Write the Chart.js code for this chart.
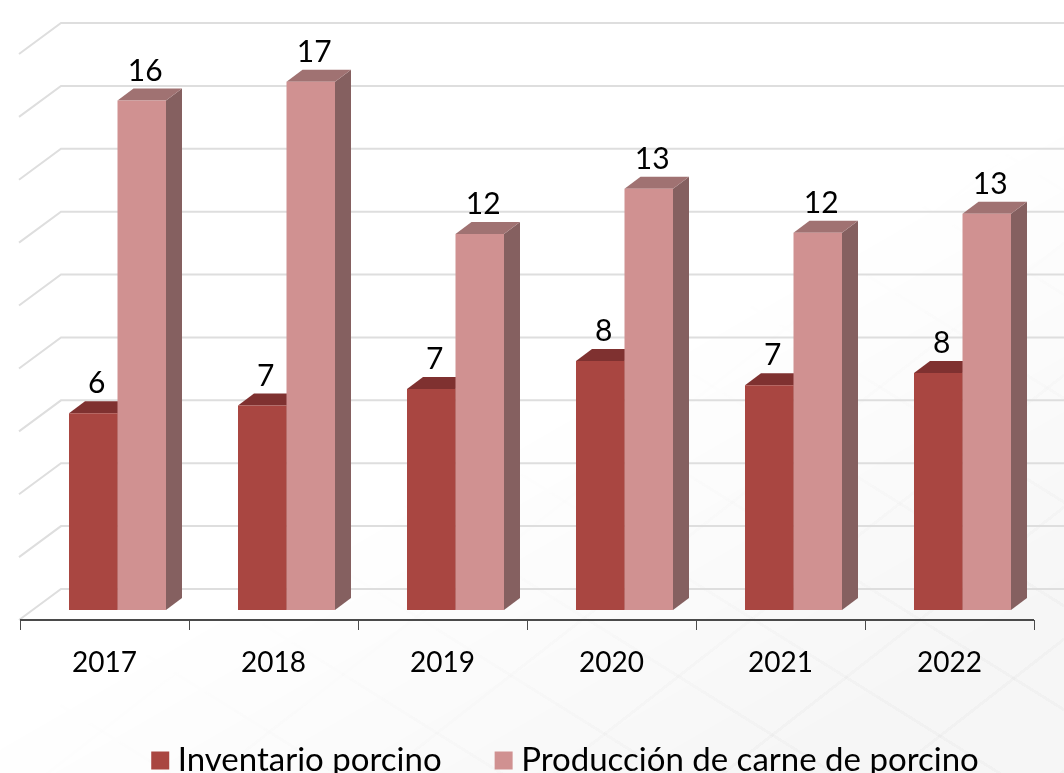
<!DOCTYPE html>
<html>
<head>
<meta charset="utf-8">
<title>Inventario y producción porcina</title>
<script src="https://cdn.jsdelivr.net/npm/chart.js@4/dist/chart.umd.min.js"></script>
<style>
  html, body { margin: 0; padding: 0; background: #fff; overflow: hidden; }
  #wrap { position: relative; width: 1064px; height: 773px; }
  /* textura gris muy suave abajo a la derecha */
  #fondo {
    position: absolute; inset: 0;
    background:
      repeating-linear-gradient(32deg, rgba(0,0,0,.02) 0 3px, transparent 3px 88px),
      repeating-linear-gradient(-38deg, rgba(0,0,0,.02) 0 3px, transparent 3px 104px),
      #f6f6f6;
    -webkit-mask-image: linear-gradient(150deg, transparent 52%, #000 88%);
    mask-image: linear-gradient(150deg, transparent 52%, #000 88%);
  }
  canvas { position: absolute; left: 0; top: 0; }
</style>
</head>
<body>
<div id="wrap">
  <div id="fondo"></div>
  <canvas id="g-porcino" width="1064" height="773"></canvas>
</div>
<script>
var anios = ['2017', '2018', '2019', '2020', '2021', '2022'];
var inventario = [6.26, 6.5, 7.03, 7.92, 7.15, 7.54];
var produccion = [16.2, 16.8, 11.96, 13.4, 12, 12.6];
var etiquetasInventario = ['6', '7', '7', '8', '7', '8'];
var etiquetasProduccion = ['16', '17', '12', '13', '12', '13'];
var valoresGrid = [0, 2, 4, 6, 8, 10, 12, 14, 16, 18];

var fuente = 'Lato';
var colorTexto = '#000';
var caras = [
  { frente: '#a94641', arriba: '#7f3130', lado: '#7f3130' },
  { frente: '#d09191', arriba: '#a07272', lado: '#856060' }
];

// el eje de categorias va corrido 13px a la izquierda de las barras
var corrimiento = 13;

var plugin3d = {
  id: 'plugin3d',
  afterLayout: function (chart) {
    // centra la leyenda como en el original
    chart.legend.left += 29;
    chart.legend.right += 29;
  },
  beforeDatasetsDraw: function (chart) {
    var ctx = chart.ctx;
    var y = chart.scales.y;
    var x = chart.scales.x;
    ctx.save();

    // lineas de la pared y del piso
    valoresGrid.forEach(function (v) {
      var py = y.getPixelForValue(v);
      ctx.strokeStyle = '#dedede';
      ctx.lineWidth = 2;
      ctx.beginPath();
      ctx.moveTo(19, py + 10);
      ctx.lineTo(61, py - 21);
      ctx.lineTo(1064, py - 21);
      ctx.stroke();
    });

    // eje x
    var base = y.getPixelForValue(0) + 10;
    var paso = x.getPixelForTick(1) - x.getPixelForTick(0);
    ctx.strokeStyle = '#4a4a4a';
    ctx.lineWidth = 2;
    ctx.beginPath();
    ctx.moveTo(20, base);
    ctx.lineTo(1034, base);
    ctx.stroke();
    ctx.lineWidth = 1;
    for (var i = 0; i <= anios.length; i++) {
      var tx = Math.round(x.getPixelForTick(0) - paso / 2 - corrimiento + paso * i) + 0.5;
      ctx.beginPath();
      ctx.moveTo(tx, base);
      ctx.lineTo(tx, base + 10);
      ctx.stroke();
    }

    // cara de arriba y lado de cada barra
    var dx = 16, dy = 12;
    chart.data.datasets.forEach(function (ds, d) {
      chart.getDatasetMeta(d).data.forEach(function (bar) {
        var izq = bar.x - bar.width / 2;
        var der = bar.x + bar.width / 2;
        ctx.fillStyle = caras[d].lado;
        ctx.beginPath();
        ctx.moveTo(der, bar.y);
        ctx.lineTo(der + dx, bar.y - dy);
        ctx.lineTo(der + dx, bar.base - dy);
        ctx.lineTo(der, bar.base);
        ctx.closePath();
        ctx.fill();
        ctx.fillStyle = caras[d].arriba;
        ctx.beginPath();
        ctx.moveTo(izq, bar.y);
        ctx.lineTo(izq + dx, bar.y - dy);
        ctx.lineTo(der + dx, bar.y - dy);
        ctx.lineTo(der, bar.y);
        ctx.closePath();
        ctx.fill();
      });
    });
    ctx.restore();
  },
  afterDatasetsDraw: function (chart) {
    var ctx = chart.ctx;
    var etiquetas = [etiquetasInventario, etiquetasProduccion];
    ctx.save();
    ctx.fillStyle = colorTexto;
    ctx.font = '400 30px ' + fuente;
    ctx.textAlign = 'center';
    ctx.textBaseline = 'alphabetic';
    chart.data.datasets.forEach(function (ds, d) {
      chart.getDatasetMeta(d).data.forEach(function (bar, i) {
        ctx.fillText(etiquetas[d][i], bar.x + 3.5, bar.y - 20);
      });
    });
    ctx.restore();
  }
};

var idhtml = document.getElementById('g-porcino').getContext('2d');
var g_barras = new Chart(idhtml, {
  type: 'bar',
  plugins: [plugin3d],
  data: {
    labels: anios,
    datasets: [{
      label: 'Inventario porcino',
      data: inventario,
      backgroundColor: caras[0].frente
    }, {
      label: 'Producción de carne de porcino',
      data: produccion,
      backgroundColor: caras[1].frente
    }]
  },
  options: {
    responsive: false,
    animation: false,
    layout: { padding: { left: 33, right: 17, top: 44, bottom: -14 } },
    datasets: { bar: { categoryPercentage: 0.574, barPercentage: 1 } },
    scales: {
      x: {
        grid: { display: false },
        border: { display: false },
        ticks: {
          color: colorTexto,
          font: { family: fuente, size: 28, weight: '400' },
          padding: 28,
          labelOffset: -corrimiento,
          maxRotation: 0
        },
        afterFit: function (scale) { scale.height = 73; }
      },
      y: { display: false, min: 0, max: 18 }
    },
    plugins: {
      tooltip: { enabled: false },
      legend: {
        position: 'bottom',
        labels: {
          color: colorTexto,
          font: { family: fuente, size: 33, weight: '400' },
          boxWidth: 2,
          boxHeight: 2,
          padding: 61,
          generateLabels: function (chart) {
            return Chart.defaults.plugins.legend.labels.generateLabels(chart).map(function (it) {
              // el borde grueso da el cuadro de 18px
              it.strokeStyle = it.fillStyle;
              it.lineWidth = 16;
              return it;
            });
          }
        }
      }
    }
  }
});
</script>
</body>
</html>
